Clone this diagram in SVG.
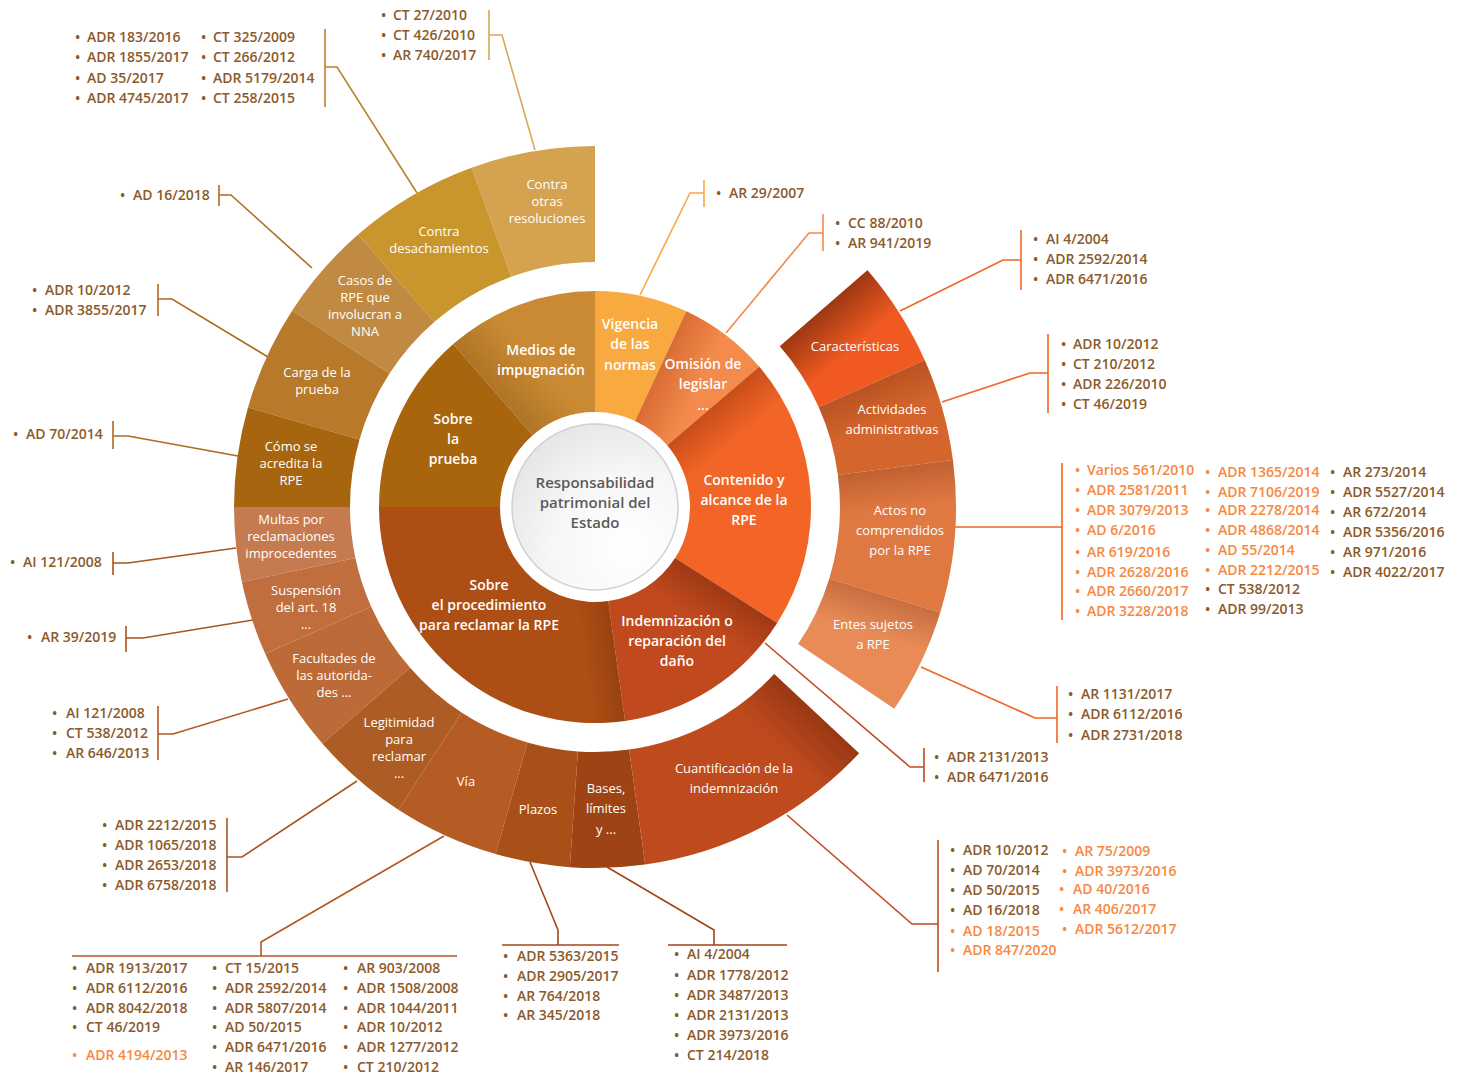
<svg xmlns="http://www.w3.org/2000/svg" width="1461" height="1077" viewBox="0 0 1461 1077">
<defs>
<style>
.t{font-family:"Open Sans","Liberation Sans",sans-serif;font-weight:600;font-size:14px;fill:#8B5A2B}
.o{fill:#F7883F}
.w{font-family:"Open Sans","Liberation Sans",sans-serif;font-size:13px;fill:#fff;text-anchor:middle}
.wi{font-family:"Open Sans","Liberation Sans",sans-serif;font-weight:600;font-size:14px;fill:#fff;text-anchor:middle}
.c{fill:none;stroke-width:1.6}
.ctr{font-family:"Open Sans","Liberation Sans",sans-serif;font-weight:600;font-size:15px;fill:#5A5A5A;text-anchor:middle}
</style>
<radialGradient id="cg" cx="0.7" cy="0.75" r="0.9">
<stop offset="0" stop-color="#FFFFFF"/>
<stop offset="0.5" stop-color="#F7F7F7"/>
<stop offset="1" stop-color="#E2E2E2"/>
</radialGradient>
<linearGradient id="gMed" gradientUnits="userSpaceOnUse" x1="493.3" y1="390" x2="530" y2="358"><stop offset="0" stop-color="#6A3A00" stop-opacity="0.28"/><stop offset="1" stop-color="#6A3A00" stop-opacity="0"/></linearGradient>
<linearGradient id="gOmi" gradientUnits="userSpaceOnUse" x1="660.5" y1="366.5" x2="700" y2="385"><stop offset="0" stop-color="#B04010" stop-opacity="0.4"/><stop offset="1" stop-color="#B04010" stop-opacity="0"/></linearGradient>
<linearGradient id="gCon" gradientUnits="userSpaceOnUse" x1="712.9" y1="406.3" x2="739" y2="437"><stop offset="0" stop-color="#8A2A08" stop-opacity="0.4"/><stop offset="1" stop-color="#8A2A08" stop-opacity="0"/></linearGradient>
<linearGradient id="gInd" gradientUnits="userSpaceOnUse" x1="725.7" y1="590.3" x2="704" y2="624"><stop offset="0" stop-color="#6A2206" stop-opacity="0.4"/><stop offset="1" stop-color="#6A2206" stop-opacity="0"/></linearGradient>
<linearGradient id="gPro" gradientUnits="userSpaceOnUse" x1="616.6" y1="660.5" x2="585" y2="665"><stop offset="0" stop-color="#5A2006" stop-opacity="0.25"/><stop offset="1" stop-color="#5A2006" stop-opacity="0"/></linearGradient>
<linearGradient id="gCar" gradientUnits="userSpaceOnUse" x1="823.7" y1="308.2" x2="856.5" y2="345.9"><stop offset="0" stop-color="#7A2A0A" stop-opacity="0.7"/><stop offset="1" stop-color="#7A2A0A" stop-opacity="0"/></linearGradient>
<linearGradient id="gAct" gradientUnits="userSpaceOnUse" x1="871.8" y1="383.8" x2="888" y2="420.3"><stop offset="0" stop-color="#7A2A0A" stop-opacity="0.3"/><stop offset="1" stop-color="#7A2A0A" stop-opacity="0"/></linearGradient>
<linearGradient id="gAcn" gradientUnits="userSpaceOnUse" x1="895.4" y1="467.5" x2="900.6" y2="507"><stop offset="0" stop-color="#7A2A0A" stop-opacity="0.3"/><stop offset="1" stop-color="#7A2A0A" stop-opacity="0"/></linearGradient>
<linearGradient id="gEnt" gradientUnits="userSpaceOnUse" x1="884.8" y1="595.6" x2="873" y2="634"><stop offset="0" stop-color="#7A2A0A" stop-opacity="0.3"/><stop offset="1" stop-color="#7A2A0A" stop-opacity="0"/></linearGradient>
<linearGradient id="gCua" gradientUnits="userSpaceOnUse" x1="816.6" y1="713.6" x2="782.5" y2="750.2"><stop offset="0" stop-color="#6A2206" stop-opacity="0.45"/><stop offset="1" stop-color="#6A2206" stop-opacity="0"/></linearGradient>
</defs>
<rect width="1461" height="1077" fill="#fff"/>

<g id="connectors">
<path class="c" stroke="#B9822C" d="M325,29 V107 M325,67 H337 L417,193"/>
<path class="c" stroke="#D8A956" d="M489,10 V60 M489,35 H502 L535,150"/>
<path class="c" stroke="#AE6B1C" d="M219,185 V206 M219,195 H231 L312,268"/>
<path class="c" stroke="#AE6B1C" d="M158,284 V316 M158,299 H172 L268,357"/>
<path class="c" stroke="#AE6B1C" d="M113,421 V449 M113,436 H128 L238,456"/>
<path class="c" stroke="#A9551E" d="M113,552 V575 M113,563 H128 L236,548"/>
<path class="c" stroke="#A9551E" d="M126,626 V652 M126,638 H143 L253,620"/>
<path class="c" stroke="#B2561E" d="M158,706 V760 M158,734 H173 L288,699"/>
<path class="c" stroke="#A9551E" d="M227,818 V892 M227,857 H242 L357,781"/>
<path class="c" stroke="#B5551E" d="M72,956 H457 M261,956 V942 L444,836"/>
<path class="c" stroke="#A5481A" d="M502,945 H619 M558,945 V930 L530,862"/>
<path class="c" stroke="#9E4414" d="M668,945 H787 M714,945 V930 L607,867"/>
<path class="c" stroke="#C04B1F" d="M938,840 V972 M938,924 H912 L787,815"/>
<path class="c" stroke="#C04B1F" d="M924,748 V782 M924,767 H910 L765,643"/>
<path class="c" stroke="#F26522" d="M1057,686 V743 M1057,718 H1035 L921,667"/>
<path class="c" stroke="#F26522" d="M1062,463 V620 M1062,527 H955"/>
<path class="c" stroke="#F26522" d="M1048,334 V413 M1048,373 H1030 L942,402"/>
<path class="c" stroke="#F26522" d="M1021,230 V290 M1021,260 H1003 L900,311"/>
<path class="c" stroke="#F5894B" d="M823,214 V251 M823,233 H809 L726,333"/>
<path class="c" stroke="#F9A941" d="M704,180 V207 M704,193 H690 L640,295"/>
</g>

<g id="inner-ring">
<g id="vigencia"><path fill="#F8AA40" d="M595,291 A216,216 0 0 1 686.28,311.24 L635.15,420.90 A95,95 0 0 0 595,412 Z"/>
<text class="wi" x="630" y="329">Vigencia</text><text class="wi" x="630" y="349">de las</text><text class="wi" x="630" y="370">normas</text></g>
<g id="omision"><path fill="#F48A4C" d="M686.28,311.24 A216,216 0 0 1 759.25,366.73 L667.24,445.31 A95,95 0 0 0 635.15,420.90 Z"/>
<path fill="url(#gOmi)" d="M686.28,311.24 A216,216 0 0 1 759.25,366.73 L667.24,445.31 A95,95 0 0 0 635.15,420.90 Z"/>
<text class="wi" x="703" y="369">Omisión de</text><text class="wi" x="703" y="389">legislar</text><text class="wi" x="703" y="410">...</text></g>
<g id="contenido"><path fill="#F26526" d="M759.25,366.73 A216,216 0 0 1 777.17,623.06 L675.12,558.04 A95,95 0 0 0 667.24,445.31 Z"/>
<path fill="url(#gCon)" d="M759.25,366.73 A216,216 0 0 1 777.17,623.06 L675.12,558.04 A95,95 0 0 0 667.24,445.31 Z"/>
<text class="wi" x="744" y="485">Contenido y</text><text class="wi" x="744" y="505">alcance de la</text><text class="wi" x="744" y="525">RPE</text></g>
<g id="indemnizacion"><path fill="#C1491E" d="M777.17,623.06 A216,216 0 0 1 625.07,720.90 L608.22,601.08 A95,95 0 0 0 675.12,558.04 Z"/>
<path fill="url(#gInd)" d="M777.17,623.06 A216,216 0 0 1 625.07,720.90 L608.22,601.08 A95,95 0 0 0 675.12,558.04 Z"/>
<text class="wi" x="677" y="626">Indemnización o</text><text class="wi" x="677" y="646">reparación del</text><text class="wi" x="677" y="666">daño</text></g>
<g id="procedimiento"><path fill="#AD4E14" d="M625.07,720.90 A216,216 0 0 1 379,507 L500,507 A95,95 0 0 0 608.22,601.08 Z"/>
<path fill="url(#gPro)" d="M625.07,720.90 A216,216 0 0 1 379,507 L500,507 A95,95 0 0 0 608.22,601.08 Z"/>
<text class="wi" x="489" y="590">Sobre</text><text class="wi" x="489" y="610">el procedimiento</text><text class="wi" x="489" y="630">para reclamar la RPE</text></g>
<g id="prueba"><path fill="#A9650E" d="M379,507 A216,216 0 0 1 453.28,343.98 L532.67,435.30 A95,95 0 0 0 500,507 Z"/>
<text class="wi" x="453" y="424">Sobre</text><text class="wi" x="453" y="444">la</text><text class="wi" x="453" y="464">prueba</text></g>
<g id="medios"><path fill="#C98A33" d="M453.28,343.98 A216,216 0 0 1 595,291 L595,412 A95,95 0 0 0 532.67,435.30 Z"/>
<path fill="url(#gMed)" d="M453.28,343.98 A216,216 0 0 1 595,291 L595,412 A95,95 0 0 0 532.67,435.30 Z"/>
<text class="wi" x="541" y="355">Medios de</text><text class="wi" x="541" y="375">impugnación</text></g>
</g>

<g id="centro">
<circle cx="595" cy="507" r="83" fill="url(#cg)" stroke="#D0D0D0" stroke-width="1.5"/>
<text class="ctr" x="595" y="488">Responsabilidad</text>
<text class="ctr" x="595" y="508">patrimonial del</text>
<text class="ctr" x="595" y="528">Estado</text>
</g>

<g id="outer-left">
<g id="contra-otras"><path fill="#D5A24F" d="M471.54,167.77 A361,361 0 0 1 595,146 L595,262 A245,245 0 0 0 511.21,276.77 Z"/>
<text class="w" x="547" y="188.5">Contra</text><text class="w" x="547" y="205.5">otras</text><text class="w" x="547" y="222.5">resoluciones</text></g>
<g id="contra-desach"><path fill="#C9962D" d="M358.15,234.55 A361,361 0 0 1 471.54,167.77 L511.21,276.77 A245,245 0 0 0 434.26,322.10 Z"/>
<text class="w" x="439" y="236">Contra</text><text class="w" x="439" y="253">desachamientos</text></g>
<g id="casos"><path fill="#C08A43" d="M292.23,310.40 A361,361 0 0 1 358.15,234.55 L434.26,322.10 A245,245 0 0 0 389.52,373.57 Z"/>
<text class="w" x="365" y="285">Casos de</text><text class="w" x="365" y="302">RPE que</text><text class="w" x="365" y="319">involucran a</text><text class="w" x="365" y="336">NNA</text></g>
<g id="carga"><path fill="#B8792B" d="M247.97,407.51 A361,361 0 0 1 292.23,310.40 L389.52,373.57 A245,245 0 0 0 359.48,439.48 Z"/>
<text class="w" x="317" y="376.5">Carga de la</text><text class="w" x="317" y="393.5">prueba</text></g>
<g id="como"><path fill="#A8650F" d="M234,507 A361,361 0 0 1 247.97,407.51 L359.48,439.48 A245,245 0 0 0 350,507 Z"/>
<text class="w" x="291" y="451">Cómo se</text><text class="w" x="291" y="468">acredita la</text><text class="w" x="291" y="485">RPE</text></g>
<g id="multas"><path fill="#C57B4F" d="M241.91,582.05 A361,361 0 0 1 234,507 L350,507 A245,245 0 0 0 355.37,557.94 Z"/>
<text class="w" x="291" y="523.5">Multas por</text><text class="w" x="291" y="540.5">reclamaciones</text><text class="w" x="291" y="557.5">improcedentes</text></g>
<g id="suspension"><path fill="#C06E3E" d="M265.23,653.82 A361,361 0 0 1 241.91,582.05 L355.37,557.94 A245,245 0 0 0 371.19,606.64 Z"/>
<text class="w" x="306" y="594.5">Suspensión</text><text class="w" x="306" y="611.5">del art. 18</text><text class="w" x="306" y="628.5">...</text></g>
<g id="facultades"><path fill="#BC6A37" d="M322.55,743.85 A361,361 0 0 1 265.23,653.82 L371.19,606.64 A245,245 0 0 0 410.10,667.74 Z"/>
<text class="w" x="334" y="662.5">Facultades de</text><text class="w" x="334" y="679.5">las autorida-</text><text class="w" x="334" y="696.5">des ...</text></g>
<g id="legitimidad"><path fill="#AD5C24" d="M398.40,809.77 A361,361 0 0 1 322.55,743.85 L410.10,667.74 A245,245 0 0 0 461.57,712.48 Z"/>
<text class="w" x="399" y="726.5">Legitimidad</text><text class="w" x="399" y="743.5">para</text><text class="w" x="399" y="760.5">reclamar</text><text class="w" x="399" y="777.5">...</text></g>
<g id="via"><path fill="#B45C24" d="M495.51,854.03 A361,361 0 0 1 398.40,809.77 L461.57,712.48 A245,245 0 0 0 527.48,742.52 Z"/>
<text class="w" x="466" y="786">Vía</text></g>
<g id="plazos"><path fill="#A95019" d="M569.80,867.13 A361,361 0 0 1 495.51,854.03 L527.48,742.52 A245,245 0 0 0 577.90,751.41 Z"/>
<text class="w" x="538" y="814">Plazos</text></g>
<g id="bases"><path fill="#9E4414" d="M645.25,864.50 A361,361 0 0 1 569.80,867.13 L577.90,751.41 A245,245 0 0 0 629.10,749.62 Z"/>
<text class="w" x="606" y="793">Bases,</text><text class="w" x="606" y="813">límites</text><text class="w" x="606" y="834">y ...</text></g>
<g id="cuantificacion"><path fill="#BE4A1E" d="M859.04,753.20 A361,361 0 0 1 645.25,864.50 L629.10,749.62 A245,245 0 0 0 774.19,674.09 Z"/>
<path fill="url(#gCua)" d="M859.04,753.20 A361,361 0 0 1 645.25,864.50 L629.10,749.62 A245,245 0 0 0 774.19,674.09 Z"/>
<text class="w" x="734" y="773">Cuantificación de la</text><text class="w" x="734" y="793">indemnización</text></g>
</g>

<g id="outer-right">
<g id="caracteristicas"><path fill="#F05A22" d="M867.45,270.15 A361,361 0 0 1 924.77,360.18 L818.81,407.36 A245,245 0 0 0 779.90,346.26 Z"/>
<path fill="url(#gCar)" d="M867.45,270.15 A361,361 0 0 1 924.77,360.18 L818.81,407.36 A245,245 0 0 0 779.90,346.26 Z"/>
<text class="w" x="855" y="351">Características</text></g>
<g id="actividades"><path fill="#D4652C" d="M924.77,360.18 A361,361 0 0 1 952.90,459.89 L837.89,475.03 A245,245 0 0 0 818.81,407.36 Z"/>
<path fill="url(#gAct)" d="M924.77,360.18 A361,361 0 0 1 952.90,459.89 L837.89,475.03 A245,245 0 0 0 818.81,407.36 Z"/>
<text class="w" x="892" y="414">Actividades</text><text class="w" x="892" y="434">administrativas</text></g>
<g id="actos"><path fill="#DF7841" d="M952.90,459.89 A361,361 0 0 1 940.22,612.56 L829.29,578.64 A245,245 0 0 0 837.89,475.03 Z"/>
<path fill="url(#gAcn)" d="M952.90,459.89 A361,361 0 0 1 940.22,612.56 L829.29,578.64 A245,245 0 0 0 837.89,475.03 Z"/>
<text class="w" x="900" y="515">Actos no</text><text class="w" x="900" y="535">comprendidos</text><text class="w" x="900" y="555">por la RPE</text></g>
<g id="entes"><path fill="#E88B57" d="M940.22,612.56 A361,361 0 0 1 894.27,708.87 L798.11,644.00 A245,245 0 0 0 829.29,578.64 Z"/>
<path fill="url(#gEnt)" d="M940.22,612.56 A361,361 0 0 1 894.27,708.87 L798.11,644.00 A245,245 0 0 0 829.29,578.64 Z"/>
<text class="w" x="873" y="629">Entes sujetos</text><text class="w" x="873" y="649">a RPE</text></g>
</g>

<g id="list-desach">
<text class="t" y="42"><tspan x="75">•</tspan><tspan x="87">ADR 183/2016</tspan></text>
<text class="t" y="62"><tspan x="75">•</tspan><tspan x="87">ADR 1855/2017</tspan></text>
<text class="t" y="83"><tspan x="75">•</tspan><tspan x="87">AD 35/2017</tspan></text>
<text class="t" y="103"><tspan x="75">•</tspan><tspan x="87">ADR 4745/2017</tspan></text>
<text class="t" y="42"><tspan x="201">•</tspan><tspan x="213">CT 325/2009</tspan></text>
<text class="t" y="62"><tspan x="201">•</tspan><tspan x="213">CT 266/2012</tspan></text>
<text class="t" y="83"><tspan x="201">•</tspan><tspan x="213">ADR 5179/2014</tspan></text>
<text class="t" y="103"><tspan x="201">•</tspan><tspan x="213">CT 258/2015</tspan></text>
</g>
<g id="list-otras">
<text class="t" y="20"><tspan x="381">•</tspan><tspan x="393">CT 27/2010</tspan></text>
<text class="t" y="40"><tspan x="381">•</tspan><tspan x="393">CT 426/2010</tspan></text>
<text class="t" y="60"><tspan x="381">•</tspan><tspan x="393">AR 740/2017</tspan></text>
</g>
<g id="list-casos"><text class="t" y="200"><tspan x="120">•</tspan><tspan x="133">AD 16/2018</tspan></text></g>
<g id="list-carga">
<text class="t" y="295"><tspan x="32">•</tspan><tspan x="45">ADR 10/2012</tspan></text>
<text class="t" y="315"><tspan x="32">•</tspan><tspan x="45">ADR 3855/2017</tspan></text>
</g>
<g id="list-como"><text class="t" y="439"><tspan x="13">•</tspan><tspan x="26">AD 70/2014</tspan></text></g>
<g id="list-multas"><text class="t" y="567"><tspan x="10">•</tspan><tspan x="23">AI 121/2008</tspan></text></g>
<g id="list-suspension"><text class="t" y="642"><tspan x="27">•</tspan><tspan x="41">AR 39/2019</tspan></text></g>
<g id="list-facultades">
<text class="t" y="718"><tspan x="52">•</tspan><tspan x="66">AI 121/2008</tspan></text>
<text class="t" y="738"><tspan x="52">•</tspan><tspan x="66">CT 538/2012</tspan></text>
<text class="t" y="758"><tspan x="52">•</tspan><tspan x="66">AR 646/2013</tspan></text>
</g>
<g id="list-legitimidad">
<text class="t" y="830"><tspan x="102">•</tspan><tspan x="115">ADR 2212/2015</tspan></text>
<text class="t" y="850"><tspan x="102">•</tspan><tspan x="115">ADR 1065/2018</tspan></text>
<text class="t" y="870"><tspan x="102">•</tspan><tspan x="115">ADR 2653/2018</tspan></text>
<text class="t" y="890"><tspan x="102">•</tspan><tspan x="115">ADR 6758/2018</tspan></text>
</g>
<g id="list-via">
<text class="t" y="973"><tspan x="72">•</tspan><tspan x="86">ADR 1913/2017</tspan></text>
<text class="t" y="993"><tspan x="72">•</tspan><tspan x="86">ADR 6112/2016</tspan></text>
<text class="t" y="1013"><tspan x="72">•</tspan><tspan x="86">ADR 8042/2018</tspan></text>
<text class="t" y="1032"><tspan x="72">•</tspan><tspan x="86">CT 46/2019</tspan></text>
<text class="t o" y="1060"><tspan x="72">•</tspan><tspan x="86">ADR 4194/2013</tspan></text>
<text class="t" y="973"><tspan x="212">•</tspan><tspan x="225">CT 15/2015</tspan></text>
<text class="t" y="993"><tspan x="212">•</tspan><tspan x="225">ADR 2592/2014</tspan></text>
<text class="t" y="1013"><tspan x="212">•</tspan><tspan x="225">ADR 5807/2014</tspan></text>
<text class="t" y="1032"><tspan x="212">•</tspan><tspan x="225">AD 50/2015</tspan></text>
<text class="t" y="1052"><tspan x="212">•</tspan><tspan x="225">ADR 6471/2016</tspan></text>
<text class="t" y="1072"><tspan x="212">•</tspan><tspan x="225">AR 146/2017</tspan></text>
<text class="t" y="973"><tspan x="343">•</tspan><tspan x="357">AR 903/2008</tspan></text>
<text class="t" y="993"><tspan x="343">•</tspan><tspan x="357">ADR 1508/2008</tspan></text>
<text class="t" y="1013"><tspan x="343">•</tspan><tspan x="357">ADR 1044/2011</tspan></text>
<text class="t" y="1032"><tspan x="343">•</tspan><tspan x="357">ADR 10/2012</tspan></text>
<text class="t" y="1052"><tspan x="343">•</tspan><tspan x="357">ADR 1277/2012</tspan></text>
<text class="t" y="1072"><tspan x="343">•</tspan><tspan x="357">CT 210/2012</tspan></text>
</g>
<g id="list-plazos">
<text class="t" y="961"><tspan x="503">•</tspan><tspan x="517">ADR 5363/2015</tspan></text>
<text class="t" y="981"><tspan x="503">•</tspan><tspan x="517">ADR 2905/2017</tspan></text>
<text class="t" y="1001"><tspan x="503">•</tspan><tspan x="517">AR 764/2018</tspan></text>
<text class="t" y="1020"><tspan x="503">•</tspan><tspan x="517">AR 345/2018</tspan></text>
</g>
<g id="list-bases">
<text class="t" y="959"><tspan x="674">•</tspan><tspan x="687">AI 4/2004</tspan></text>
<text class="t" y="980"><tspan x="674">•</tspan><tspan x="687">ADR 1778/2012</tspan></text>
<text class="t" y="1000"><tspan x="674">•</tspan><tspan x="687">ADR 3487/2013</tspan></text>
<text class="t" y="1020"><tspan x="674">•</tspan><tspan x="687">ADR 2131/2013</tspan></text>
<text class="t" y="1040"><tspan x="674">•</tspan><tspan x="687">ADR 3973/2016</tspan></text>
<text class="t" y="1060"><tspan x="674">•</tspan><tspan x="687">CT 214/2018</tspan></text>
</g>
<g id="list-cuantificacion">
<text class="t" y="855"><tspan x="950">•</tspan><tspan x="963">ADR 10/2012</tspan></text>
<text class="t" y="875"><tspan x="950">•</tspan><tspan x="963">AD 70/2014</tspan></text>
<text class="t" y="895"><tspan x="950">•</tspan><tspan x="963">AD 50/2015</tspan></text>
<text class="t" y="915"><tspan x="950">•</tspan><tspan x="963">AD 16/2018</tspan></text>
<text class="t o" y="936"><tspan x="950">•</tspan><tspan x="963">AD 18/2015</tspan></text>
<text class="t o" y="955"><tspan x="950">•</tspan><tspan x="963">ADR 847/2020</tspan></text>
<text class="t o" y="856"><tspan x="1062">•</tspan><tspan x="1075">AR 75/2009</tspan></text>
<text class="t o" y="876"><tspan x="1062">•</tspan><tspan x="1075">ADR 3973/2016</tspan></text>
<text class="t o" y="894"><tspan x="1059">•</tspan><tspan x="1073">AD 40/2016</tspan></text>
<text class="t o" y="914"><tspan x="1059">•</tspan><tspan x="1073">AR 406/2017</tspan></text>
<text class="t o" y="934"><tspan x="1062">•</tspan><tspan x="1075">ADR 5612/2017</tspan></text>
</g>
<g id="list-indemnizacion">
<text class="t" y="762"><tspan x="934">•</tspan><tspan x="947">ADR 2131/2013</tspan></text>
<text class="t" y="782"><tspan x="934">•</tspan><tspan x="947">ADR 6471/2016</tspan></text>
</g>
<g id="list-entes">
<text class="t" y="699"><tspan x="1068">•</tspan><tspan x="1081">AR 1131/2017</tspan></text>
<text class="t" y="719"><tspan x="1068">•</tspan><tspan x="1081">ADR 6112/2016</tspan></text>
<text class="t" y="740"><tspan x="1068">•</tspan><tspan x="1081">ADR 2731/2018</tspan></text>
</g>
<g id="list-actos">
<text class="t o" y="475"><tspan x="1075">•</tspan><tspan x="1087">Varios 561/2010</tspan></text>
<text class="t o" y="495"><tspan x="1075">•</tspan><tspan x="1087">ADR 2581/2011</tspan></text>
<text class="t o" y="515"><tspan x="1075">•</tspan><tspan x="1087">ADR 3079/2013</tspan></text>
<text class="t o" y="535"><tspan x="1075">•</tspan><tspan x="1087">AD 6/2016</tspan></text>
<text class="t o" y="557"><tspan x="1075">•</tspan><tspan x="1087">AR 619/2016</tspan></text>
<text class="t o" y="577"><tspan x="1075">•</tspan><tspan x="1087">ADR 2628/2016</tspan></text>
<text class="t o" y="596"><tspan x="1075">•</tspan><tspan x="1087">ADR 2660/2017</tspan></text>
<text class="t o" y="616"><tspan x="1075">•</tspan><tspan x="1087">ADR 3228/2018</tspan></text>
<text class="t o" y="477"><tspan x="1205">•</tspan><tspan x="1218">ADR 1365/2014</tspan></text>
<text class="t o" y="497"><tspan x="1205">•</tspan><tspan x="1218">ADR 7106/2019</tspan></text>
<text class="t o" y="515"><tspan x="1205">•</tspan><tspan x="1218">ADR 2278/2014</tspan></text>
<text class="t o" y="535"><tspan x="1205">•</tspan><tspan x="1218">ADR 4868/2014</tspan></text>
<text class="t o" y="555"><tspan x="1205">•</tspan><tspan x="1218">AD 55/2014</tspan></text>
<text class="t o" y="575"><tspan x="1205">•</tspan><tspan x="1218">ADR 2212/2015</tspan></text>
<text class="t" y="594"><tspan x="1205">•</tspan><tspan x="1218">CT 538/2012</tspan></text>
<text class="t" y="614"><tspan x="1205">•</tspan><tspan x="1218">ADR 99/2013</tspan></text>
<text class="t" y="477"><tspan x="1330">•</tspan><tspan x="1343">AR 273/2014</tspan></text>
<text class="t" y="497"><tspan x="1330">•</tspan><tspan x="1343">ADR 5527/2014</tspan></text>
<text class="t" y="517"><tspan x="1330">•</tspan><tspan x="1343">AR 672/2014</tspan></text>
<text class="t" y="537"><tspan x="1330">•</tspan><tspan x="1343">ADR 5356/2016</tspan></text>
<text class="t" y="557"><tspan x="1330">•</tspan><tspan x="1343">AR 971/2016</tspan></text>
<text class="t" y="577"><tspan x="1330">•</tspan><tspan x="1343">ADR 4022/2017</tspan></text>
</g>
<g id="list-actividades">
<text class="t" y="349"><tspan x="1061">•</tspan><tspan x="1073">ADR 10/2012</tspan></text>
<text class="t" y="369"><tspan x="1061">•</tspan><tspan x="1073">CT 210/2012</tspan></text>
<text class="t" y="389"><tspan x="1061">•</tspan><tspan x="1073">ADR 226/2010</tspan></text>
<text class="t" y="409"><tspan x="1061">•</tspan><tspan x="1073">CT 46/2019</tspan></text>
</g>
<g id="list-caracteristicas">
<text class="t" y="244"><tspan x="1033">•</tspan><tspan x="1046">AI 4/2004</tspan></text>
<text class="t" y="264"><tspan x="1033">•</tspan><tspan x="1046">ADR 2592/2014</tspan></text>
<text class="t" y="284"><tspan x="1033">•</tspan><tspan x="1046">ADR 6471/2016</tspan></text>
</g>
<g id="list-omision">
<text class="t" y="228"><tspan x="835">•</tspan><tspan x="848">CC 88/2010</tspan></text>
<text class="t" y="248"><tspan x="835">•</tspan><tspan x="848">AR 941/2019</tspan></text>
</g>
<g id="list-vigencia"><text class="t" y="198"><tspan x="716">•</tspan><tspan x="729">AR 29/2007</tspan></text></g>
</svg>
